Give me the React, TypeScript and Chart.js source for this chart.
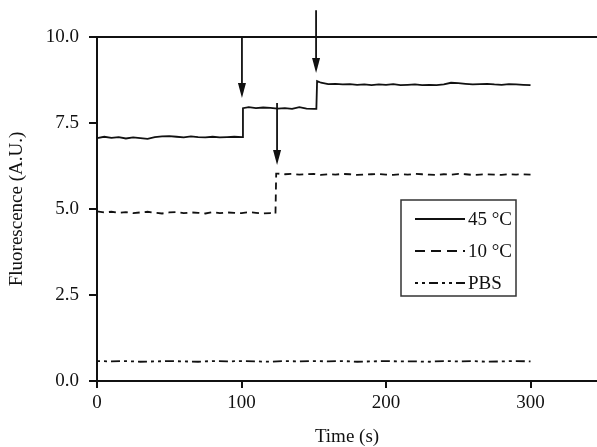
import React, { useEffect, useRef } from "react";
import { Chart, registerables } from "chart.js";

Chart.register(...registerables);

// 45 °C series
const t45 = [0, 5, 10, 15, 20, 25, 30, 35, 40, 45, 50, 55, 60, 65, 70, 75, 80, 85, 90, 95, 100.5,
  101, 105, 110, 115, 120, 125, 130, 135, 140, 145, 150, 151.8,
  152.3, 155, 160, 165, 170, 175, 180, 185, 190, 195, 200, 205, 210, 215, 220, 225, 230, 235, 240, 245, 250, 255, 260, 265, 270, 275, 280, 285, 290, 295, 300];
const v45 = [7.06, 7.10, 7.07, 7.09, 7.05, 7.08, 7.06, 7.04, 7.09, 7.11, 7.12, 7.10, 7.08, 7.11, 7.09, 7.08, 7.10, 7.08, 7.09, 7.10, 7.09,
  7.93, 7.96, 7.93, 7.95, 7.94, 7.92, 7.93, 7.91, 7.96, 7.92, 7.91, 7.91,
  8.72, 8.67, 8.63, 8.64, 8.62, 8.63, 8.61, 8.62, 8.60, 8.62, 8.61, 8.63, 8.60, 8.61, 8.62, 8.60, 8.61, 8.60, 8.62, 8.67, 8.66, 8.64, 8.62, 8.63, 8.64, 8.62, 8.61, 8.63, 8.62, 8.61, 8.60];

// 10 °C series
const t10 = [0, 5, 10, 15, 20, 25, 30, 35, 40, 45, 50, 55, 60, 65, 70, 75, 80, 85, 90, 95, 100, 105, 110, 115, 120, 123.5,
  124, 125, 130, 135, 140, 145, 150, 155, 160, 165, 170, 175, 180, 185, 190, 195, 200, 205, 210, 215, 220, 225, 230, 235, 240, 245, 250, 255, 260, 265, 270, 275, 280, 285, 290, 295, 300];
const v10 = [4.93, 4.90, 4.92, 4.89, 4.91, 4.88, 4.90, 4.92, 4.89, 4.87, 4.90, 4.91, 4.88, 4.90, 4.89, 4.87, 4.91, 4.88, 4.90, 4.89, 4.88, 4.91, 4.89, 4.87, 4.88, 4.86,
  6.03, 6.03, 6.01, 6.02, 6.00, 6.01, 6.02, 5.99, 6.01, 6.00, 6.02, 6.01, 5.99, 6.00, 6.01, 6.02, 6.00, 5.99, 6.01, 6.00, 6.02, 6.01, 6.00, 5.99, 6.01, 6.00, 6.02, 6.01, 5.99, 6.00, 6.01, 6.00, 5.99, 6.01, 6.00, 6.01, 6.00];

// PBS series
const tPBS = [0, 10, 20, 30, 40, 50, 60, 70, 80, 90, 100, 110, 120, 130, 140, 150, 160, 170, 180, 190, 200, 210, 220, 230, 240, 250, 260, 270, 280, 290, 300];
const vPBS = [0.58, 0.57, 0.58, 0.56, 0.57, 0.58, 0.57, 0.56, 0.58, 0.57, 0.58, 0.57, 0.56, 0.58, 0.57, 0.58, 0.57, 0.58, 0.56, 0.57, 0.58, 0.57, 0.57, 0.56, 0.58, 0.57, 0.58, 0.56, 0.57, 0.58, 0.57];

const seriesLabels = ["45 °C", "10 °C", "PBS"];

// arrows (time, from value, to value)
const arrowT = [100.3, 151.6, 124.6];
const arrowFrom = [10.0, 10.78, 8.08];
const arrowTo = [8.23, 8.95, 6.28];

const xTicks = [0, 100, 200, 300];
const yTicks = [0, 2.5, 5, 7.5, 10];

const FONT = "'Liberation Serif', 'Times New Roman', serif";
const INK = "#111";
const FS = 19;

const dashes = [[], [7, 5], [3, 4, 3, 4, 9, 4]];
const legendDashes = [[], [10, 6], [3, 4, 3, 4, 9, 4]];

const extrasPlugin = {
  id: "extras",
  afterDraw(chart: any) {
    const { ctx, chartArea, scales } = chart;
    const xs = scales.x;
    const ys = scales.y;
    ctx.save();
    // top line
    ctx.strokeStyle = INK;
    ctx.lineWidth = 2;
    ctx.beginPath();
    ctx.moveTo(chartArea.left, ys.getPixelForValue(10));
    ctx.lineTo(chart.width, ys.getPixelForValue(10));
    ctx.stroke();
    // arrows
    for (let i = 0; i < arrowT.length; i++) {
      const x = xs.getPixelForValue(arrowT[i]);
      const y0 = ys.getPixelForValue(arrowFrom[i]);
      const y1 = ys.getPixelForValue(arrowTo[i]);
      const head = 15;
      ctx.lineWidth = 1.8;
      ctx.beginPath();
      ctx.moveTo(x, y0);
      ctx.lineTo(x, y1 - head + 2);
      ctx.stroke();
      ctx.fillStyle = INK;
      ctx.beginPath();
      ctx.moveTo(x - 4, y1 - head);
      ctx.lineTo(x + 4, y1 - head);
      ctx.lineTo(x, y1);
      ctx.closePath();
      ctx.fill();
    }
    // legend
    const bx = chartArea.left + 304;
    const by = chartArea.top + 163;
    const bw = 115;
    const bh = 96;
    ctx.lineWidth = 1.5;
    ctx.strokeStyle = "#333";
    ctx.strokeRect(bx, by, bw, bh);
    ctx.font = `${FS}px ${FONT}`;
    ctx.fillStyle = INK;
    ctx.textBaseline = "middle";
    ctx.textAlign = "left";
    const rows = [19, 51, 83];
    for (let i = 0; i < seriesLabels.length; i++) {
      const y = by + rows[i];
      ctx.strokeStyle = INK;
      ctx.lineWidth = 1.8;
      ctx.setLineDash(legendDashes[i]);
      ctx.beginPath();
      ctx.moveTo(bx + 14, y);
      ctx.lineTo(bx + 64, y);
      ctx.stroke();
      ctx.setLineDash([]);
      ctx.fillText(seriesLabels[i], bx + 67, y + 1);
    }
    ctx.restore();
  },
};

export default function App() {
  const ref = useRef<HTMLCanvasElement | null>(null);
  useEffect(() => {
    if (!ref.current) return;
    const mk = (t: number[], v: number[]) => t.map((x, i) => ({ x, y: v[i] }));
    const datasets = [mk(t45, v45), mk(t10, v10), mk(tPBS, vPBS)].map((d, i) => ({
      label: seriesLabels[i],
      data: d,
      borderColor: INK,
      borderWidth: 1.8,
      borderDash: dashes[i],
      pointRadius: 0,
      fill: false,
      tension: 0,
    }));
    const chart = new Chart(ref.current, {
      type: "line",
      data: { datasets },
      plugins: [extrasPlugin],
      options: {
        animation: false,
        responsive: false,
        maintainAspectRatio: false,
        layout: { padding: { top: 37, right: 0, left: 0, bottom: 0 } },
        plugins: { legend: { display: false }, tooltip: { enabled: false } },
        scales: {
          x: {
            type: "linear",
            min: 0,
            max: 346,
            afterBuildTicks: (s: any) => { s.ticks = xTicks.map((value) => ({ value })); },
            afterFit: (s: any) => { s.height = 66; },
            ticks: { color: INK, font: { family: FONT, size: FS }, padding: 4, maxRotation: 0 },
            grid: { drawOnChartArea: false, drawTicks: true, tickLength: 7, color: INK, lineWidth: 2 },
            border: { color: INK, width: 2 },
            title: { display: true, text: "Time (s)", color: INK, font: { family: FONT, size: FS }, padding: { top: 0, bottom: -1 } },
          },
          y: {
            type: "linear",
            min: 0,
            max: 10,
            afterBuildTicks: (s: any) => { s.ticks = yTicks.map((value) => ({ value })); },
            afterFit: (s: any) => { s.width = 97; },
            ticks: { color: INK, font: { family: FONT, size: FS }, padding: 10, callback: (v: any) => Number(v).toFixed(1) },
            grid: { drawOnChartArea: false, drawTicks: true, tickLength: 8, color: INK, lineWidth: 2 },
            border: { color: INK, width: 2 },
            title: { display: true, text: "Fluorescence (A.U.)", color: INK, font: { family: FONT, size: FS }, padding: { top: 6, bottom: 0 } },
          },
        },
      },
    } as any);
    return () => chart.destroy();
  }, []);
  return (
    <div style={{ position: "fixed", left: 0, top: 0, width: 597, height: 447, background: "#fff" }}>
      <canvas ref={ref} width={597} height={447} style={{ width: 597, height: 447 }} />
    </div>
  );
}
